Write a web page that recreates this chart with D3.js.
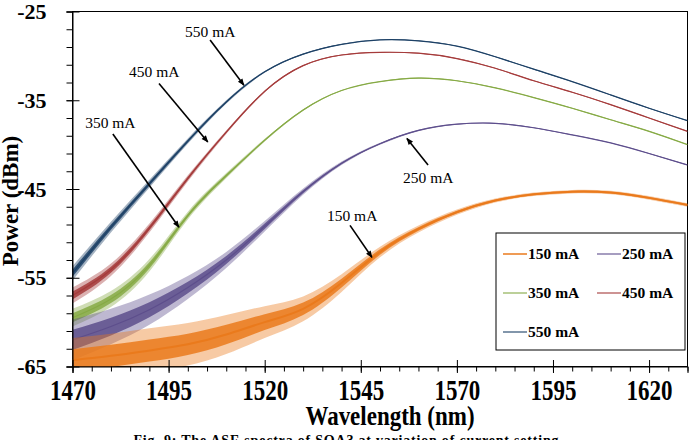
<!DOCTYPE html>
<html>
<head>
<meta charset="utf-8">
<script src="https://cdn.jsdelivr.net/npm/d3@7"></script>
<style>
  body { margin: 0; background: #fff; }
  text { font-family: "Liberation Serif", "Times New Roman", serif; }
</style>
</head>
<body>
<div class="chart"></div>
<script>
// values (dBm), one point every 10 nm
const wavelengths = [1470, 1480, 1490, 1500, 1510, 1520, 1530, 1540, 1550, 1560, 1570, 1580, 1590, 1600, 1610, 1620, 1630];
const p150 = [-64.3, -63.8, -63.2, -62.5, -61.4, -60.0, -58.5, -55.6, -52.1, -49.5, -47.6, -46.3, -45.6, -45.3, -45.4, -46.0, -46.8];
const p250 = [-62.0, -60.5, -58.6, -56.1, -53.0, -49.2, -45.3, -42.1, -39.9, -38.4, -37.7, -37.6, -38.1, -38.9, -39.8, -41.0, -42.3];
const p350 = [-59.5, -57.4, -53.6, -48.0, -43.5, -39.5, -36.1, -33.9, -32.9, -32.5, -32.8, -33.6, -34.7, -35.9, -37.2, -38.5, -40.0];
const p450 = [-57.0, -54.1, -49.4, -43.8, -38.6, -34.0, -31.1, -29.9, -29.6, -29.7, -30.3, -31.4, -32.8, -34.1, -35.5, -37.0, -38.5];
const p550 = [-54.5, -49.3, -44.4, -39.6, -35.2, -31.8, -29.8, -28.7, -28.2, -28.3, -28.9, -30.1, -31.5, -32.9, -34.4, -35.9, -37.3];

// half-width of the noise band around each curve (dB)
const n150 = [2.5, 2.5, 2.5, 2.4, 2.2, 1.8, 1.4, 1.0, 0.6, 0.4, 0.3, 0.22, 0.2, 0.2, 0.2, 0.2, 0.2];
const n250 = [2.3, 2.0, 1.7, 1.3, 0.9, 0.6, 0.35, 0.2, 0.12, 0.08, 0.05, 0.05, 0.05, 0.05, 0.05, 0.05, 0.05];
const n350 = [1.0, 0.9, 0.7, 0.45, 0.3, 0.15, 0.1, 0.05, 0.05, 0.05, 0.05, 0.05, 0.05, 0.05, 0.05, 0.05, 0.05];
const n450 = [0.9, 0.7, 0.5, 0.35, 0.2, 0.12, 0.08, 0.05, 0.05, 0.05, 0.05, 0.05, 0.05, 0.05, 0.05, 0.05, 0.05];
const n550 = [0.8, 0.6, 0.45, 0.3, 0.2, 0.1, 0.08, 0.05, 0.05, 0.05, 0.05, 0.05, 0.05, 0.05, 0.05, 0.05, 0.05];

const currents = ["150 mA", "250 mA", "350 mA", "450 mA", "550 mA"];
const colors = ["#ea7a1c", "#5d4e8c", "#86aa45", "#a53b3b", "#1d4166"];

const xTicks = [1470, 1495, 1520, 1545, 1570, 1595, 1620];
const xMinor = d3.range(1470, 1631, 5);
const yTicks = [-65, -55, -45, -35, -25];
const yMinor = d3.range(-65, -24, 2);

// annotations: label text position, arrow tail and tip in data units
const notes = [
  { label: "550 mA", tx: 1499.3, ty: -27.9, fx: 1505.8, fy: -28.2, ax: 1514.6, ay: -33.3 },
  { label: "450 mA", tx: 1484.7, ty: -32.4, fx: 1492.5, fy: -33.1, ax: 1505.2, ay: -39.7 },
  { label: "350 mA", tx: 1473.3, ty: -38.1, fx: 1480.5, fy: -38.8, ax: 1497.7, ay: -49.3 },
  { label: "250 mA", tx: 1556.0, ty: -44.3, fx: 1562.5, fy: -42.3, ax: 1557.0, ay: -39.3 },
  { label: "150 mA", tx: 1536.2, ty: -48.6, fx: 1542.2, fy: -49.1, ax: 1547.9, ay: -52.7 }
];

const series = [p150, p250, p350, p450, p550];
const noise = [n150, n250, n350, n450, n550];

const W = 695, H = 440;
const pL = 72.5, pR = 687.5, pT = 11.5, pB = 366.5;

const svg = d3.select(".chart").append("svg").attr("width", W).attr("height", H);

const x = d3.scaleLinear().domain([1470, 1630]).range([pL, pR]);
const y = d3.scaleLinear().domain([-65, -25]).range([pB, pT]);

svg.append("defs").append("clipPath").attr("id", "plot")
  .append("rect").attr("x", pL).attr("y", pT)
  .attr("width", pR - pL).attr("height", pB - pT);

// frame
svg.append("rect")
  .attr("x", pL).attr("y", pT)
  .attr("width", pR - pL).attr("height", pB - pT)
  .attr("fill", "none").attr("stroke", "#000").attr("stroke-width", 1);

const curves = svg.append("g").attr("clip-path", "url(#plot)");

// draw 550 first so the orange ends up on top, like the reference
for (let i = series.length - 1; i >= 0; i--) {
  const vals = series[i], spread = noise[i];
  const pts = wavelengths.map((w, k) => ({ w: w, v: vals[k], s: spread[k] }));

  const band = f => d3.area()
    .x(d => x(d.w))
    .y0(d => y(d.v - d.s * f))
    .y1(d => y(d.v + d.s * f))
    .curve(d3.curveNatural);
  const line = d3.line()
    .x(d => x(d.w))
    .y(d => y(d.v))
    .curve(d3.curveNatural);

  curves.append("path").attr("d", band(1)(pts)).attr("fill", colors[i]).attr("opacity", 0.4);
  curves.append("path").attr("d", band(0.5)(pts)).attr("fill", colors[i]).attr("opacity", 0.85);
  curves.append("path").attr("d", line(pts))
    .attr("fill", "none").attr("stroke", colors[i])
    .attr("stroke-width", i == 0 ? 2 : 1.2);
}

// axes
const yAxis = svg.append("g").attr("transform", `translate(${pL},0)`)
  .call(d3.axisLeft(y).tickValues(yTicks).tickSize(6).tickPadding(20).tickFormat(d => String(d)));
yAxis.selectAll(".tick line").attr("x1", 7);
yAxis.selectAll("text")
  .attr("font-size", 22).attr("font-weight", "bold")
  .attr("font-family", "Liberation Serif, serif").attr("fill", "#000");
svg.append("g").attr("transform", `translate(${pL},0)`)
  .call(d3.axisLeft(y).tickValues(yMinor).tickSize(6).tickFormat(""))
  .select(".domain").remove();

const xAxis = svg.append("g").attr("transform", `translate(0,${pB})`)
  .call(d3.axisBottom(x).tickValues(xTicks).tickSize(6.5).tickFormat(d => String(d)));
xAxis.selectAll(".tick line").attr("y1", -6.5);
xAxis.selectAll("text")
  .attr("y", 0).attr("dy", null)
  .attr("transform", "translate(0,33) scale(1,1.25)")
  .attr("font-size", 23).attr("font-weight", "bold")
  .attr("font-family", "Liberation Serif, serif").attr("fill", "#000");
svg.append("g").attr("transform", `translate(0,${pB})`)
  .call(d3.axisBottom(x).tickValues(xMinor).tickSize(5).tickFormat(""))
  .select(".domain").remove();

// axis titles
svg.append("text")
  .text("Wavelength (nm)")
  .attr("transform", "translate(390,425) scale(1,1.15)")
  .attr("text-anchor", "middle")
  .attr("font-size", 23).attr("font-weight", "bold");

svg.append("text")
  .text("Power (dBm)")
  .attr("transform", "translate(18,201) rotate(-90)")
  .attr("text-anchor", "middle")
  .attr("font-size", 23).attr("font-weight", "bold");

svg.append("text")
  .text("Fig. 9: The ASE spectra of SOA3 at variation of current setting")
  .attr("x", 346).attr("y", 445)
  .attr("text-anchor", "middle")
  .attr("textLength", 425)
  .attr("font-size", 14).attr("font-weight", "bold");

// annotations with arrows
svg.append("defs").append("marker")
  .attr("id", "head")
  .attr("viewBox", "0 0 10 10")
  .attr("refX", 9).attr("refY", 5)
  .attr("markerWidth", 8).attr("markerHeight", 7)
  .attr("markerUnits", "userSpaceOnUse")
  .attr("orient", "auto")
  .append("path").attr("d", "M0,1 L10,5 L0,9 z").attr("fill", "#000");

for (const n of notes) {
  svg.append("text")
    .text(n.label)
    .attr("x", x(n.tx)).attr("y", y(n.ty))
    .attr("font-size", 15.5);
  svg.append("line")
    .attr("x1", x(n.fx)).attr("y1", y(n.fy))
    .attr("x2", x(n.ax)).attr("y2", y(n.ay))
    .attr("stroke", "#000").attr("stroke-width", 1.6)
    .attr("marker-end", "url(#head)");
}

// legend
const legend = svg.append("g");
legend.append("rect")
  .attr("x", 496).attr("y", 233).attr("width", 189).attr("height", 117)
  .attr("fill", "#fff").attr("stroke", "#000").attr("stroke-width", 1);

currents.forEach((c, i) => {
  const col = i % 2, row = Math.floor(i / 2);
  const lx = 503 + col * 94, ly = 254 + row * 39;
  legend.append("line")
    .attr("x1", lx).attr("x2", lx + 24)
    .attr("y1", ly).attr("y2", ly)
    .attr("stroke", colors[i]).attr("stroke-width", i == 0 ? 1.5 : 1.1);
  legend.append("text")
    .text(c)
    .attr("x", lx + 25).attr("y", ly)
    .attr("dy", "0.35em")
    .attr("font-size", 15.5).attr("font-weight", "bold");
});
</script>
</body>
</html>
